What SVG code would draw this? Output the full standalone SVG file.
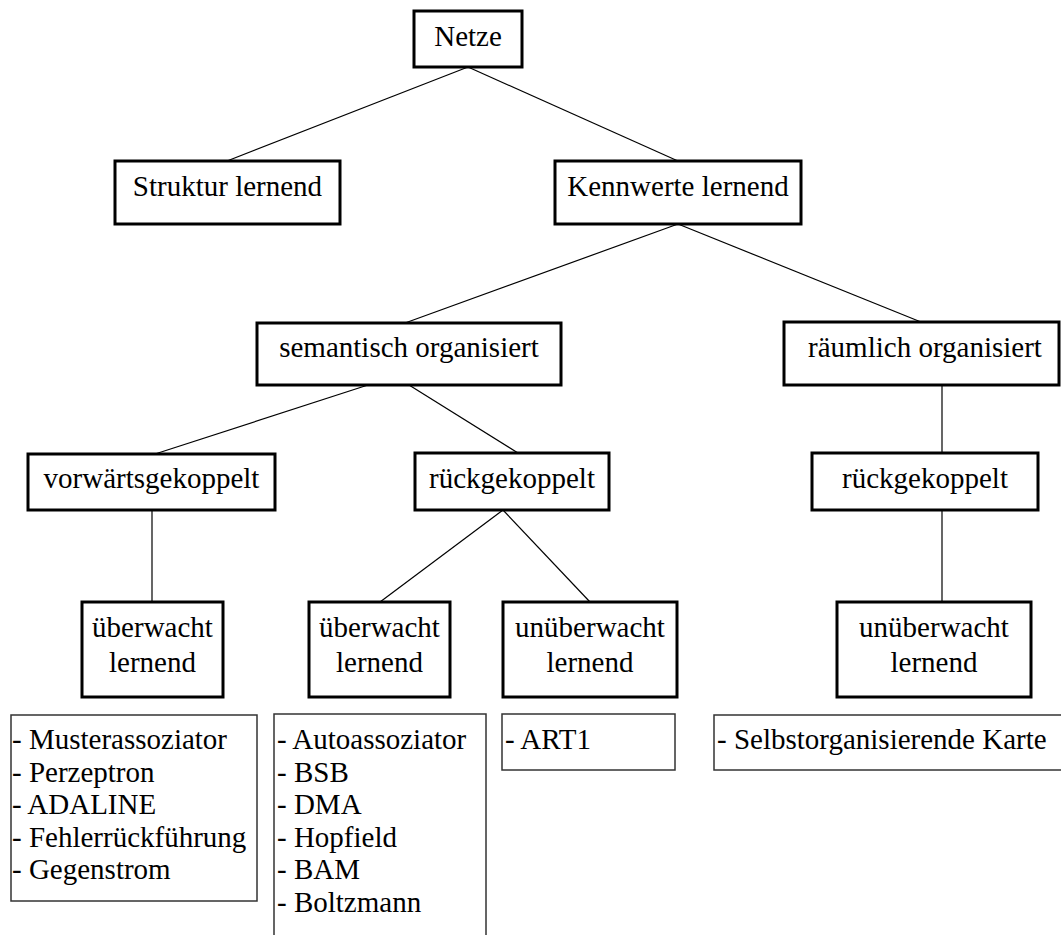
<svg xmlns="http://www.w3.org/2000/svg" width="1061" height="935" viewBox="0 0 1061 935">
<style>
.box{fill:#fff;stroke:#000;stroke-width:3}
.list{fill:#fff;stroke:#333;stroke-width:1.5}
.t{font-family:'Liberation Serif','Times New Roman',serif;font-size:29px;fill:#000}
.c{text-anchor:middle}
.conn line{stroke:#000;stroke-width:1.2}
</style>
<rect width="1061" height="935" fill="#fff"/>
<g id="connectors" class="conn">
<line x1="468" y1="67" x2="227" y2="161"/>
<line x1="468" y1="67" x2="678" y2="161"/>
<line x1="678" y1="224" x2="405" y2="323"/>
<line x1="678" y1="224" x2="921" y2="322"/>
<line x1="368" y1="385" x2="155" y2="454"/>
<line x1="409" y1="385" x2="518" y2="453"/>
<line x1="942" y1="385" x2="942" y2="453"/>
<line x1="152" y1="510" x2="152" y2="602"/>
<line x1="503" y1="510" x2="380" y2="602"/>
<line x1="503" y1="510" x2="590" y2="602"/>
<line x1="942" y1="510" x2="942" y2="602"/>
</g>
<g id="netze"><rect class="box" x="414" y="11" width="108" height="56"/><text class="t c" x="468" y="46">Netze</text></g>
<g id="struktur"><rect class="box" x="115" y="161" width="225" height="63"/><text class="t c" x="227.5" y="196">Struktur lernend</text></g>
<g id="kennwerte"><rect class="box" x="555" y="161" width="246" height="63"/><text class="t c" x="678" y="196">Kennwerte lernend</text></g>
<g id="semantisch"><rect class="box" x="257" y="323" width="304" height="62"/><text class="t c" x="409" y="357">semantisch organisiert</text></g>
<g id="raeumlich"><rect class="box" x="784" y="322" width="275" height="63"/><text class="t c" x="925" y="357">räumlich organisiert</text></g>
<g id="vorwaerts"><rect class="box" x="28" y="454" width="247" height="56"/><text class="t c" x="151.5" y="488">vorwärtsgekoppelt</text></g>
<g id="rueck1"><rect class="box" x="415" y="453" width="194" height="57"/><text class="t c" x="512" y="488">rückgekoppelt</text></g>
<g id="rueck2"><rect class="box" x="812" y="453" width="226" height="57"/><text class="t c" x="925" y="488">rückgekoppelt</text></g>
<g id="ueber1"><rect class="box" x="82" y="602" width="141" height="95"/><text class="t c" x="152.5" y="637">überwacht</text><text class="t c" x="152.5" y="672">lernend</text></g>
<g id="ueber2"><rect class="box" x="309" y="602" width="141" height="95"/><text class="t c" x="379.5" y="637">überwacht</text><text class="t c" x="379.5" y="672">lernend</text></g>
<g id="unueber1"><rect class="box" x="503" y="602" width="174" height="95"/><text class="t c" x="590" y="637">unüberwacht</text><text class="t c" x="590" y="672">lernend</text></g>
<g id="unueber2"><rect class="box" x="837" y="602" width="194" height="95"/><text class="t c" x="934" y="637">unüberwacht</text><text class="t c" x="934" y="672">lernend</text></g>
<g id="list1"><rect class="list" x="11" y="715" width="246" height="186"/>
<text class="t" x="12" y="749">- Musterassoziator</text>
<text class="t" x="12" y="782">- Perzeptron</text>
<text class="t" x="12" y="814">- ADALINE</text>
<text class="t" x="12" y="847">- Fehlerrückführung</text>
<text class="t" x="12" y="879">- Gegenstrom</text></g>
<g id="list2"><rect class="list" x="274" y="714" width="212" height="240"/>
<text class="t" x="277" y="749">- Autoassoziator</text>
<text class="t" x="277" y="782">- BSB</text>
<text class="t" x="277" y="814">- DMA</text>
<text class="t" x="277" y="847">- Hopfield</text>
<text class="t" x="277" y="879">- BAM</text>
<text class="t" x="277" y="912">- Boltzmann</text></g>
<g id="list3"><rect class="list" x="502" y="714" width="173" height="56"/>
<text class="t" x="505" y="749">- ART1</text></g>
<g id="list4"><rect class="list" x="714" y="715" width="360" height="55"/>
<text class="t" x="717" y="749">- Selbstorganisierende Karte</text></g>
</svg>
